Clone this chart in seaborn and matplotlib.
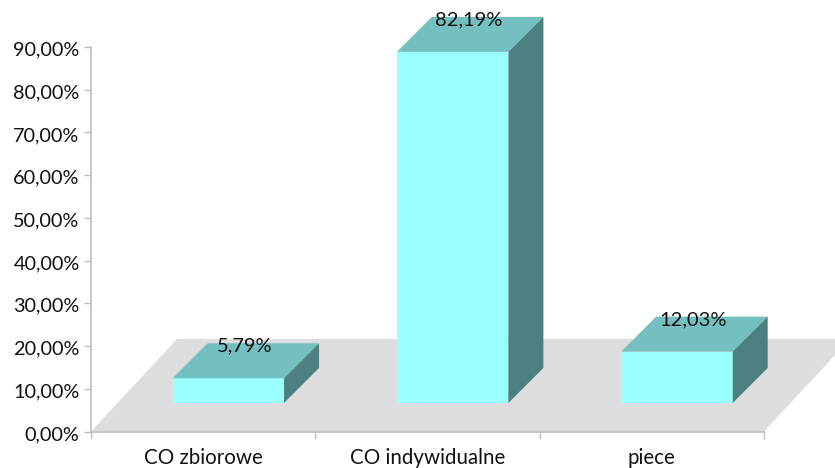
import matplotlib
matplotlib.use("Agg")
import matplotlib.pyplot as plt
import matplotlib.transforms as mtrans
import seaborn as sns
from matplotlib.patches import Polygon

categories = ["CO zbiorowe", "CO indywidualne", "piece"]
shares = [5.79, 82.19, 12.03]
value_labels = ["5,79%", "82,19%", "12,03%"]
y_ticks = [0, 10, 20, 30, 40, 50, 60, 70, 80, 90]
y_tick_labels = ["0,00%", "10,00%", "20,00%", "30,00%", "40,00%",
                 "50,00%", "60,00%", "70,00%", "80,00%", "90,00%"]

FRONT = "#99FFFF"
TOP = "#74BFBF"
SIDE = "#4D8080"
FLOOR = "#DDDDDD"
AXIS = "#BEBEBE"
INK = "#111111"
W, H = 835, 468
LEFT, RIGHT, ZERO_Y, TOP_Y = 91, 764, 431.5, 47

sns.set_theme(style="white")
plt.rcParams["font.family"] = ["Lato", "DejaVu Sans"]
FS_Y = 14.3
FS_VALUE = 14.5
FS_X = 14.8

fig = plt.figure(figsize=(W / 100, H / 100), dpi=100)
ax = fig.add_axes([LEFT / W, 1 - ZERO_Y / H, (RIGHT - LEFT) / W, (ZERO_Y - TOP_Y) / H])

# pixel-to-data factors for the oblique projection
px_x = 3 / (RIGHT - LEFT)
px_y = 90 / (ZERO_Y - TOP_Y)
x_start = -0.612
base = 28.5 * px_y           # bars stand on the floor, set back from its front edge
bar_w = 0.497
depth_x, depth_y = 35 * px_x, 35 * px_y
floor_x, floor_y = 86 * px_x, 92.5 * px_y

sns.barplot(x=categories, y=shares, ax=ax, color=FRONT, saturation=1,
            width=bar_w, bottom=base, linewidth=0, zorder=3)

ax.set_xlim(x_start, x_start + 3)
ax.set_ylim(0, 90)

# floor plane behind the bars, running off the right of the canvas
ax.add_patch(Polygon([(x_start, 0), (x_start + 3, 0),
                      (x_start + 3 + floor_x, floor_y), (x_start + floor_x, floor_y)],
                     closed=True, fc=FLOOR, ec="none", clip_on=False, zorder=1))

# top and side faces of each bar, and the value above it
for i, (v, lab) in enumerate(zip(shares, value_labels)):
    l, r = i - bar_w / 2, i + bar_w / 2
    t = base + v
    ax.add_patch(Polygon([(l, t), (r, t), (r + depth_x, t + depth_y), (l + depth_x, t + depth_y)],
                         closed=True, fc=TOP, ec="none", clip_on=False, zorder=3))
    ax.add_patch(Polygon([(r, base), (r + depth_x, base + depth_y), (r + depth_x, t + depth_y), (r, t)],
                         closed=True, fc=SIDE, ec="none", clip_on=False, zorder=3))
    ax.text(i + depth_x / 2 - 1 * px_x, t + 32 * px_y, lab, ha="center", va="center",
            fontsize=FS_VALUE, color=INK, clip_on=False, zorder=5)

# axis frame: boundary ticks on x, category names centred between them
ax.set_xlabel("")
ax.set_ylabel("")
ax.set_xticks([x_start + k for k in range(4)], [""] * 4)
ax.set_xticks([x_start + 0.5 + k for k in range(3)], categories, minor=True)
ax.set_yticks(y_ticks, y_tick_labels)
ax.tick_params(axis="x", which="major", bottom=True, length=5.2, width=1, color=AXIS)
ax.tick_params(axis="x", which="minor", bottom=False, labelsize=FS_X, labelcolor=INK, pad=8)
ax.tick_params(axis="y", left=True, length=5.2, width=1, color=AXIS, labelsize=FS_Y,
               labelcolor=INK, pad=3)

# nudge the y labels slightly below their tick marks
nudge = mtrans.ScaledTranslation(0, -1.5 / 100, fig.dpi_scale_trans)
for tick_label in ax.get_yticklabels():
    tick_label.set_transform(tick_label.get_transform() + nudge)

for side in ("top", "right"):
    ax.spines[side].set_visible(False)
for side in ("left", "bottom"):
    ax.spines[side].set_color(AXIS)
    ax.spines[side].set_linewidth(1.2)
    ax.spines[side].set_zorder(2)
ax.patch.set_alpha(0)

fig.savefig("out.png", dpi=100)
